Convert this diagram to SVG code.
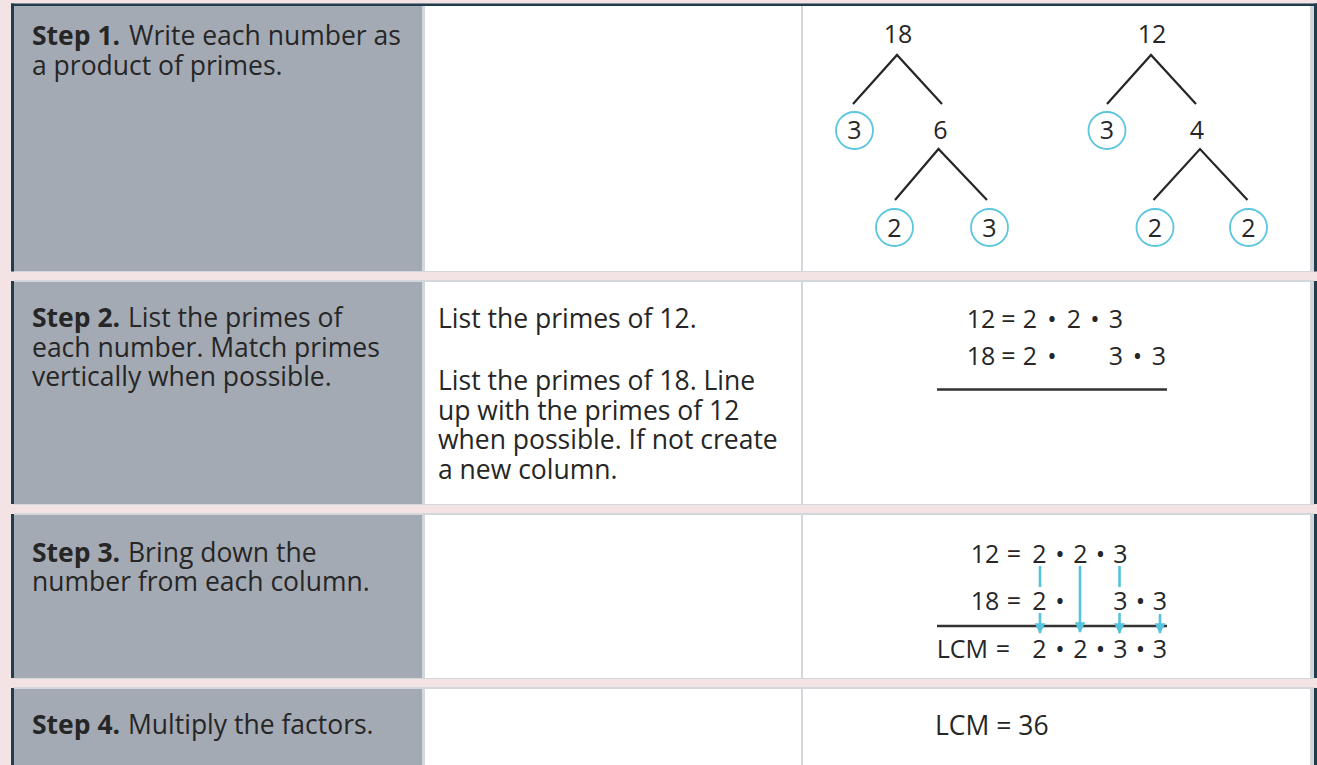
<svg xmlns="http://www.w3.org/2000/svg" width="1317" height="765" viewBox="0 0 1317 765">
<style>
.t{font-family:"Open Sans","Noto Sans","DejaVu Sans",sans-serif;font-size:26.5px;fill:#262626}
.b{font-weight:bold}
.m{font-family:"Open Sans","Noto Sans","DejaVu Sans",sans-serif;font-size:25px;fill:#262626;text-anchor:middle}
.gray{fill:#a4aab4}
.cell{fill:#ffffff}
.sep{fill:#d3d7dc}
.dark{fill:#1f3d4c}
.tree{stroke:#262626;stroke-width:2.2;fill:none}
.circ{stroke:#5cc6df;stroke-width:1.8;fill:none}
.cy{stroke:#55c3dc;stroke-width:2.6;fill:none}
.rule{stroke:#333;stroke-width:2.4}
</style>
<defs>
<marker id="ah" viewBox="0 0 10 10" refX="9" refY="5" markerWidth="4.2" markerHeight="4.2" orient="auto" markerUnits="strokeWidth">
<path d="M0,0 L10,5 L0,10 z" fill="#55c3dc"/>
</marker>
</defs>
<rect x="0" y="0" width="1317" height="765" fill="#f4e3e5"/>
<rect class="dark" x="11" y="3.5" width="1306" height="3"/>
<g id="row1">
<rect class="sep" x="14" y="6" width="1300" height="266"/>
<rect class="gray" x="14" y="6" width="408" height="265"/>
<rect class="cell" x="425" y="6" width="376" height="265"/>
<rect class="cell" x="803" y="6" width="507" height="265"/>
<rect class="dark" x="11" y="3.5" width="3" height="268"/>
<rect class="dark" x="1314" y="3.5" width="3" height="268"/>
</g>
<g id="row2">
<rect class="sep" x="14" y="280" width="1300" height="225"/>
<rect class="gray" x="14" y="282" width="408" height="222"/>
<rect class="cell" x="425" y="282" width="376" height="222"/>
<rect class="cell" x="803" y="282" width="507" height="222"/>
<rect class="dark" x="11" y="281" width="3" height="223"/>
<rect class="dark" x="1314" y="281" width="3" height="223"/>
</g>
<g id="row3">
<rect class="sep" x="14" y="513" width="1300" height="166"/>
<rect class="gray" x="14" y="515" width="408" height="163"/>
<rect class="cell" x="425" y="515" width="376" height="163"/>
<rect class="cell" x="803" y="515" width="507" height="163"/>
<rect class="dark" x="11" y="514" width="3" height="164"/>
<rect class="dark" x="1314" y="514" width="3" height="164"/>
</g>
<g id="row4">
<rect class="sep" x="14" y="687" width="1300" height="78"/>
<rect class="gray" x="14" y="689" width="408" height="76"/>
<rect class="cell" x="425" y="689" width="376" height="76"/>
<rect class="cell" x="803" y="689" width="507" height="76"/>
<rect class="dark" x="11" y="688" width="3" height="77"/>
<rect class="dark" x="1314" y="688" width="3" height="77"/>
</g>

<g id="step1-label">
<text class="t b" x="32" y="45">Step 1.</text>
<text class="t" x="129" y="45">Write each number as</text>
<text class="t" x="32" y="74.5">a product of primes.</text>
</g>
<g id="tree18">
<text class="m" x="898" y="43">18</text>
<path class="tree" d="M853,104 L897,55 L942,104"/>
<circle class="circ" cx="854.5" cy="130.5" r="18.5"/>
<text class="m" x="854.5" y="139.3">3</text>
<text class="m" x="940.5" y="138.5">6</text>
<path class="tree" d="M895,200 L938.5,149 L987,200"/>
<circle class="circ" cx="894.5" cy="227.5" r="18.5"/>
<text class="m" x="894.5" y="236.5">2</text>
<circle class="circ" cx="989.5" cy="227.5" r="18.5"/>
<text class="m" x="989.5" y="236.5">3</text>
</g>
<g id="tree12">
<text class="m" x="1152" y="43">12</text>
<path class="tree" d="M1107,104 L1151,55 L1196,104"/>
<circle class="circ" cx="1107" cy="130.5" r="18.5"/>
<text class="m" x="1107" y="139.3">3</text>
<text class="m" x="1197" y="138.5">4</text>
<path class="tree" d="M1153.5,200 L1200,149 L1247.5,200"/>
<circle class="circ" cx="1155" cy="227.5" r="18.5"/>
<text class="m" x="1155" y="236.5">2</text>
<circle class="circ" cx="1248.5" cy="227.5" r="18.5"/>
<text class="m" x="1248.5" y="236.5">2</text>
</g>

<g id="step2-label">
<text class="t b" x="32" y="327">Step 2.</text>
<text class="t" x="128" y="327">List the primes of</text>
<text class="t" x="32" y="356.5">each number. Match primes</text>
<text class="t" x="32" y="386">vertically when possible.</text>
</g>
<g id="step2-note">
<text class="t" x="438" y="328">List the primes of 12.</text>
<text class="t" x="438" y="390">List the primes of 18. Line</text>
<text class="t" x="438" y="419.5">up with the primes of 12</text>
<text class="t" x="438" y="449">when possible. If not create</text>
<text class="t" x="438" y="478.5">a new column.</text>
</g>
<g id="step2-math">
<text class="m" x="981" y="328">12</text>
<text class="m" x="1008.5" y="328">=</text>
<text class="m" x="1030" y="328">2</text>
<text class="m" x="1052" y="328">•</text>
<text class="m" x="1074" y="328">2</text>
<text class="m" x="1095" y="328">•</text>
<text class="m" x="1116" y="328">3</text>
<text class="m" x="981" y="365">18</text>
<text class="m" x="1008.5" y="365">=</text>
<text class="m" x="1030" y="365">2</text>
<text class="m" x="1052" y="365">•</text>
<text class="m" x="1116" y="365">3</text>
<text class="m" x="1137.5" y="365">•</text>
<text class="m" x="1159" y="365">3</text>
<line class="rule" x1="937" y1="389.5" x2="1167" y2="389.5"/>
</g>

<g id="step3-label">
<text class="t b" x="32" y="561.5">Step 3.</text>
<text class="t" x="128" y="561.5">Bring down the</text>
<text class="t" x="32" y="591">number from each column.</text>
</g>
<g id="step3-math">
<text class="m" x="985" y="563">12</text>
<text class="m" x="1014" y="563">=</text>
<text class="m" x="1039.5" y="563">2</text>
<text class="m" x="1060" y="563">•</text>
<text class="m" x="1080.5" y="563">2</text>
<text class="m" x="1100.5" y="563">•</text>
<text class="m" x="1120.5" y="563">3</text>
<text class="m" x="985" y="610">18</text>
<text class="m" x="1014" y="610">=</text>
<text class="m" x="1039.5" y="610">2</text>
<text class="m" x="1060" y="610">•</text>
<text class="m" x="1120.5" y="610">3</text>
<text class="m" x="1140.5" y="610">•</text>
<text class="m" x="1160" y="610">3</text>
<line class="rule" x1="937" y1="626" x2="1167" y2="626"/>
<text class="m" x="988" y="658" style="text-anchor:end">LCM</text>
<text class="m" x="1003" y="658">=</text>
<text class="m" x="1039.5" y="658">2</text>
<text class="m" x="1060" y="658">•</text>
<text class="m" x="1080.5" y="658">2</text>
<text class="m" x="1100.5" y="658">•</text>
<text class="m" x="1120.5" y="658">3</text>
<text class="m" x="1140.5" y="658">•</text>
<text class="m" x="1160" y="658">3</text>
</g>
<g id="connectors">
<line class="cy" x1="1040" y1="566" x2="1040" y2="587"/>
<line class="cy" x1="1040" y1="613" x2="1040" y2="633" marker-end="url(#ah)"/>
<line class="cy" x1="1080" y1="566" x2="1080" y2="632" marker-end="url(#ah)"/>
<line class="cy" x1="1119.5" y1="566" x2="1119.5" y2="587"/>
<line class="cy" x1="1119.5" y1="613" x2="1119.5" y2="633" marker-end="url(#ah)"/>
<line class="cy" x1="1160" y1="614" x2="1160" y2="633" marker-end="url(#ah)"/>
</g>

<g id="step4-label">
<text class="t b" x="32" y="733.5">Step 4.</text>
<text class="t" x="128" y="733.5">Multiply the factors.</text>
</g>
<g id="step4-math">
<text class="t" x="935" y="735">LCM = 36</text>
</g>
</svg>
